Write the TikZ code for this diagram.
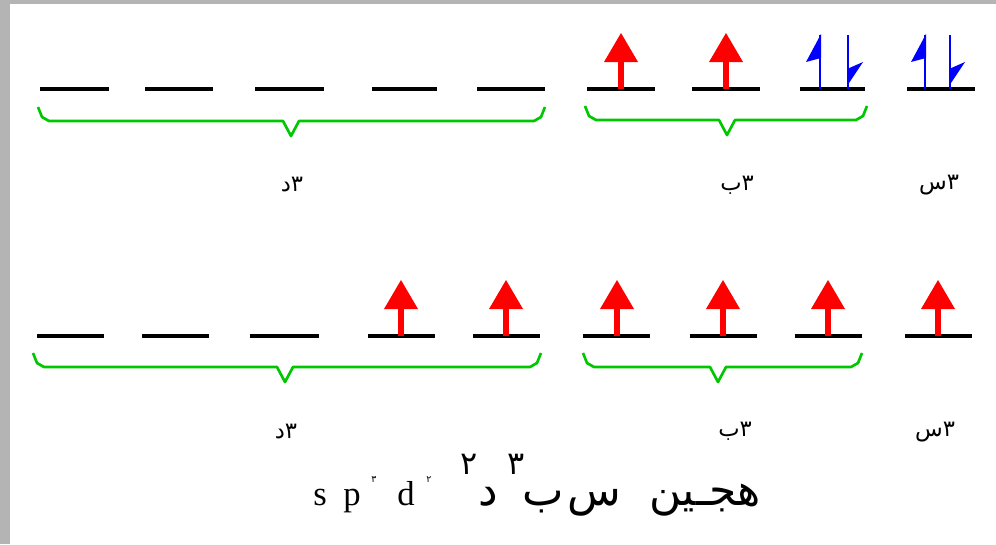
\documentclass[tikz,border=0pt]{standalone}
\usepackage{fontspec}
\setmainfont{Liberation Serif}
\newfontfamily\arabicfont[Script=Arabic]{DejaVu Sans}
\TeXXeTstate=1
\definecolor{bgrey}{RGB}{180,180,180}
\definecolor{bgreen}{RGB}{0,200,0}
\definecolor{ared}{RGB}{255,0,0}
\definecolor{ablue}{RGB}{0,0,255}
\tikzset{
  level/.style={draw=black, line width=3pt},
  bracestyle/.style={draw=bgreen, line width=2pt, line join=round},
  shaftblue/.style={draw=ablue, line width=1.9pt},
  lbl/.style={inner sep=0pt, font=\arabicfont\fontsize{17}{20}\selectfont},
  big/.style={inner sep=0pt, anchor=base, font=\fontsize{26}{30}\selectfont},
  bigar/.style={inner sep=0pt, anchor=base, font=\arabicfont\fontsize{33}{38}\selectfont},
  bigdig/.style={inner sep=0pt, anchor=base, font=\arabicfont\fontsize{24}{28}\selectfont},
  tiny/.style={inner sep=0pt, anchor=base, font=\arabicfont\fontsize{7}{8}\selectfont},
}
% orbital line: left x, right x, y
\newcommand\orbline[3]{\draw[level] (#1,#3) -- (#2,#3);}
% red up arrow: centre x, level y
\newcommand\redup[2]{%
  \fill[ared] ({#1-3},#2) rectangle ({#1+3},{#2-29});
  \fill[ared] ({#1-17},{#2-27}) -- (#1,{#2-56}) -- ({#1+17},{#2-27}) -- cycle;}
% blue paired arrows: up x, down x, level y
\newcommand\bluepair[3]{%
  \draw[shaftblue] (#1,#3) -- (#1,{#3-54});
  \fill[ablue] ({#1+1},{#3-55}) -- ({#1-14},{#3-27}) -- ({#1+1},{#3-31}) -- cycle;
  \draw[shaftblue] (#2,#3) -- (#2,{#3-54});
  \fill[ablue] ({#2-1},{#3-3}) -- ({#2+15},{#3-27}) -- ({#2-1},{#3-20}) -- cycle;}
% brace: left x, right x, tip x, top y
\newcommand\obrace[4]{%
  \draw[bracestyle] (#1,#4) -- ({#1+4},{#4+10}) -- ({#1+11},{#4+14}) -- ({#3-8},{#4+14})
    -- (#3,{#4+29}) -- ({#3+8},{#4+14}) -- ({#2-11},{#4+14}) -- ({#2-4},{#4+10}) -- (#2,#4);}
\begin{document}
\begin{tikzpicture}[x=0.75pt,y=-0.75pt]
\useasboundingbox (0,0) rectangle (996,544);
\fill[white] (0,0) rectangle (996,544);
\fill[bgrey] (0,0) rectangle (996,4);
\fill[bgrey] (0,0) rectangle (10,544);

% ---------- row 1 ----------
\orbline{40}{109}{89}
\orbline{145}{213}{89}
\orbline{255}{324}{89}
\orbline{372}{437}{89}
\orbline{477}{545}{89}
\orbline{587}{655}{89}
\orbline{692}{760}{89}
\orbline{800}{865}{89}
\orbline{907}{975}{89}
\redup{621}{89}
\redup{726}{89}
\bluepair{820}{848}{89}
\bluepair{925}{950}{89}
\obrace{38}{545}{291}{107}
\obrace{585}{867}{727}{106}
\node[lbl] (d1) at (292,185) {\beginR ٣د\endR};
\node[lbl] (p1) at (737,185) {\beginR ٣ب\endR};
\node[lbl] (s1) at (939,185) {\beginR ٣س\endR};

% ---------- row 2 ----------
\orbline{37}{104}{336}
\orbline{142}{209}{336}
\orbline{250}{319}{336}
\orbline{368}{435}{336}
\orbline{473}{540}{336}
\orbline{583}{650}{336}
\orbline{690}{757}{336}
\orbline{795}{862}{336}
\orbline{905}{972}{336}
\redup{401}{336}
\redup{506}{336}
\redup{617}{336}
\redup{723}{336}
\redup{828}{336}
\redup{938}{336}
\obrace{33}{541}{285}{353}
\obrace{583}{862}{718}{353}
\node[lbl] (d2) at (286,432) {\beginR ٣د\endR};
\node[lbl] (p2) at (735,431) {\beginR ٣ب\endR};
\node[lbl] (s2) at (935,432) {\beginR ٣س\endR};

% ---------- bottom formula ----------
\node[big] (ts) at (320,505) {s};
\node[big] (tp) at (352,505) {p};
\node[tiny] (tp3) at (374,482) {٣};
\node[big] (td) at (406,505) {d};
\node[tiny] (td2) at (429,482) {٢};
\node[bigdig] (a2) at (469,474) {٢};
\node[bigar] (ad) at (488,505) {\beginR د\endR};
\node[bigdig] (a3) at (516,474) {٣};
\node[bigar] (ab) at (543,505) {\beginR ب\endR};
\node[bigar] (as) at (594,505) {\beginR س\endR};
\node[bigar] (ah) at (705,505) {\beginR هجـين\endR};
\end{tikzpicture}
\end{document}
